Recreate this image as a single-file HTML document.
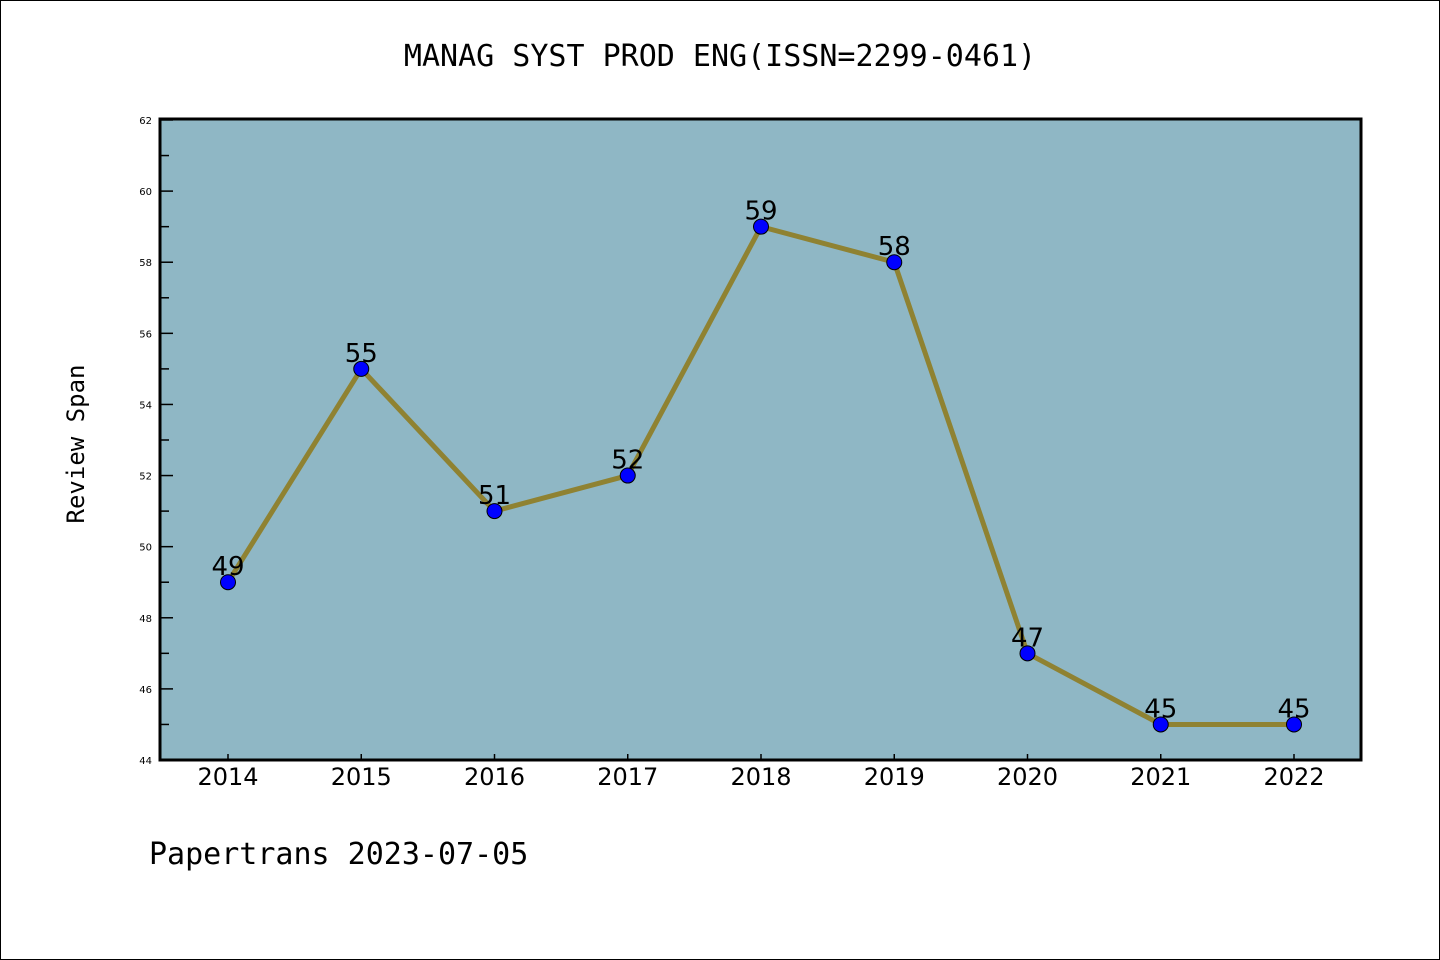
<!DOCTYPE html>
<html><head><meta charset="utf-8"><style>
html,body{margin:0;padding:0;background:#fff}
svg{display:block}
</style></head><body>
<svg id="chart" width="1440" height="960" xmlns="http://www.w3.org/2000/svg">
<rect x="0.5" y="0.5" width="1439" height="959" fill="#fff" stroke="#000" stroke-width="1"/>
<text x="720" y="66" text-anchor="middle" font-family="'DejaVu Sans Mono','Liberation Mono',monospace" font-size="30">MANAG SYST PROD ENG(ISSN=2299-0461)</text>
<rect x="160" y="119" width="1201" height="641" fill="#8fb7c5"/>
<g id="yticks"></g>
<g id="xticks"></g>
<g id="series"></g>
<rect x="160" y="119" width="1201" height="641" fill="none" stroke="#000" stroke-width="3"/>
<text transform="translate(84,444) rotate(-90)" text-anchor="middle" font-family="'DejaVu Sans Mono','Liberation Mono',monospace" font-size="24">Review Span</text>
<text x="149" y="864" font-family="'DejaVu Sans Mono','Liberation Mono',monospace" font-size="30">Papertrans 2023-07-05</text>
</svg>
<script>
const years = [2014,2015,2016,2017,2018,2019,2020,2021,2022];
const spans = [49,55,51,52,59,58,47,45,45];
const yTickLabels = [44,46,48,50,52,54,56,58,60,62];
const yMin = 44, yMax = 62;
const NS = "http://www.w3.org/2000/svg";
function xs(i){ return 228 + i*(1294-228)/(years.length-1); }
function ys(v){ return 760 - (v-yMin)*(640/(yMax-yMin)); }
function mk(tag, attrs, parent){
  const e = document.createElementNS(NS, tag);
  for (const k in attrs) e.setAttribute(k, attrs[k]);
  parent.appendChild(e); return e;
}
const yg = document.getElementById('yticks');
for (let v = yMin; v <= yMax; v++) {
  const major = (v % 2 === 0);
  const t = mk('line', {x1:160, x2:160+(major?13:9), y1:ys(v), y2:ys(v), stroke:'#000', 'stroke-width':1.5}, yg);
  
  
}
yTickLabels.forEach(v => {
  const t = mk('text', {x:152, y:ys(v)+4, 'text-anchor':'end', 'font-family':"'DejaVu Sans','Liberation Sans',sans-serif", 'font-size':10}, yg);
  t.textContent = v;
  
  
});
const xg = document.getElementById('xticks');
years.forEach((y, i) => {
  const t = mk('line', {x1:xs(i), x2:xs(i), y1:760, y2:754, stroke:'#000', 'stroke-width':1.5}, xg);
  
  
  const l = mk('text', {x:xs(i), y:785, 'text-anchor':'middle', 'font-family':"'DejaVu Sans','Liberation Sans',sans-serif", 'font-size':24}, xg);
  l.textContent = y;
  
  
});
const sg = document.getElementById('series');
const pts = spans.map((v, i) => xs(i) + ',' + ys(v)).join(' ');
const line = mk('polyline', {points:pts, fill:'none', stroke:'#8f8232', 'stroke-width':5, 'stroke-linejoin':'round'}, sg);


spans.forEach((v, i) => {
  const c = mk('circle', {cx:xs(i), cy:ys(v), r:7.5, fill:'#0000ff', stroke:'#000', 'stroke-width':1}, sg);
  
  
  const t = mk('text', {x:xs(i), y:ys(v)-7, 'text-anchor':'middle', 'font-family':"'DejaVu Sans','Liberation Sans',sans-serif", 'font-size':26}, sg);
  t.textContent = v;
  
  
});
</script>
</body></html>
